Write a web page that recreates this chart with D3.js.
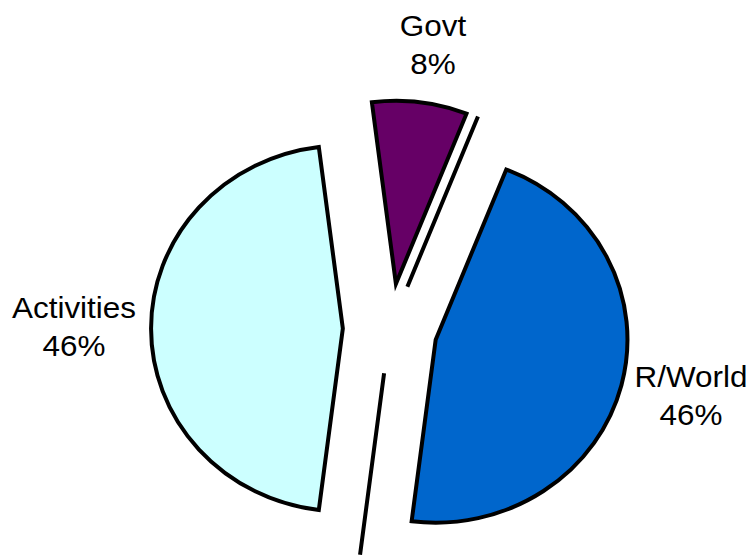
<!DOCTYPE html>
<html>
<head>
<meta charset="utf-8">
<script src="https://cdn.jsdelivr.net/npm/d3@7"></script>
<style>
  html, body { margin: 0; padding: 0; background: #fff; }
  svg { display: block; }
  text { font-family: "Liberation Sans", Arial, sans-serif; fill: #000; }
</style>
</head>
<body>
<svg id="chart" width="751" height="559"></svg>
<script>
// ---- data ----
const categories = ["Govt", "", "R/World", "", "Activities"];
const values = [8, 0, 46, 0, 46];
const colors = ["#660066", "#ffffff", "#0066CC", "#ffffff", "#CCFFFF"];
const labelLines = [["Govt", "8%"], null, ["R/World", "46%"], null, ["Activities", "46%"]];

// ---- layout ----
const W = 751, H = 559;
const cx = 390, cy = 328.5;
const radius = 183;
const xStretch = 1.048;
const explode = 45;
const startDeg = -7.2;
const labelCenters = {
  "Govt": [433, 36],
  "R/World": [691, 386.5],
  "Activities": [74, 317.5]
};
const lineGap = 38.5;
const fontSize = 30;

const svg = d3.select("#chart");

const table = categories.map((c, i) => ({ name: c, value: values[i], color: colors[i], lines: labelLines[i] }));

const pie = d3.pie()
  .sort(null)
  .value(d => d.value)
  .startAngle(startDeg * Math.PI / 180)
  .endAngle(startDeg * Math.PI / 180 + 2 * Math.PI);

const arc = d3.arc().innerRadius(0).outerRadius(radius);

const arcs = pie(table);

const g = svg.append("g")
  .attr("transform", `translate(${cx},${cy}) scale(${xStretch},1)`);

g.selectAll("path.slice")
  .data(arcs)
  .join("path")
  .attr("class", "slice")
  .attr("d", arc)
  .attr("transform", d => {
    const mid = (d.startAngle + d.endAngle) / 2;
    return `translate(${explode * Math.sin(mid)},${-explode * Math.cos(mid)})`;
  })
  .attr("fill", d => d.data.value > 0 ? d.data.color : "none")
  .attr("stroke", "#000")
  .attr("stroke-width", 4)
  .attr("stroke-linejoin", "miter")
  .attr("vector-effect", "non-scaling-stroke");

// labels
arcs.filter(d => d.data.value > 0 && d.data.lines).forEach(d => {
  const [lx, ly] = labelCenters[d.data.name];
  const t = svg.append("text")
    .attr("transform", `translate(${lx},${ly}) scale(${xStretch},1)`)
    .attr("text-anchor", "middle")
    .attr("font-size", fontSize);
  d.data.lines.forEach((s, i) => {
    t.append("tspan").attr("x", 0).attr("y", i * lineGap).text(s);
  });
});
</script>
</body>
</html>
